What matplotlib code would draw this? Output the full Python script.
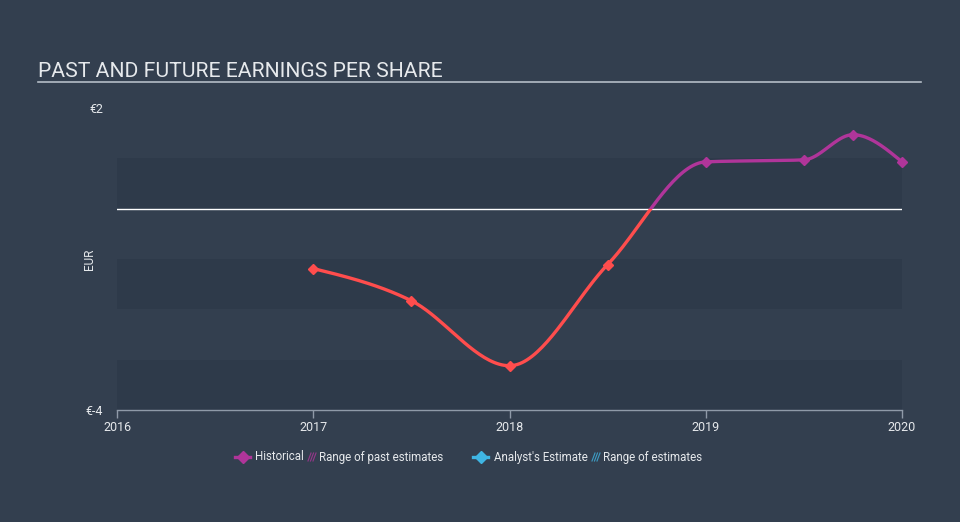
import matplotlib
matplotlib.use('Agg')
import matplotlib.pyplot as plt
from matplotlib.patches import Rectangle
import numpy as np

plt.rcParams['font.family'] = ['Roboto', 'DejaVu Sans']

# data
years = [2017.0, 2017.5, 2018.0, 2018.5, 2019.0, 2019.5, 2019.75, 2020.0]
eps = [-1.19, -1.83, -3.12, -1.11, 0.93, 0.97, 1.47, 0.93]
y_ticks = [-4, 2]
y_tick_labels = ['€-4', '€2']
x_ticks = [2016, 2017, 2018, 2019, 2020]

BG = '#333f4f'
BAND = '#2e3a4a'
NEG = '#ff4d4d'
POS = '#b0359a'
EST = '#3fb5e3'
TXT = '#e6e9ec'


def monotone_curve(x, y, n=40):
    # d3 curveMonotoneX style smoothing
    x = np.asarray(x, float)
    y = np.asarray(y, float)
    h = np.diff(x)
    s = np.diff(y) / h
    t = np.zeros(len(x))
    for i in range(1, len(x) - 1):
        p = (s[i - 1] * h[i] + s[i] * h[i - 1]) / (h[i - 1] + h[i])
        t[i] = (np.sign(s[i - 1]) + np.sign(s[i])) * min(abs(s[i - 1]), abs(s[i]), 0.5 * abs(p))
    t[0] = (3 * s[0] - t[1]) / 2
    t[-1] = (3 * s[-1] - t[-2]) / 2
    xs, ys = [], []
    for i in range(len(x) - 1):
        u = np.linspace(0, 1, n)
        h00 = 2 * u**3 - 3 * u**2 + 1
        h10 = u**3 - 2 * u**2 + u
        h01 = -2 * u**3 + 3 * u**2
        h11 = u**3 - u**2
        xs.append(x[i] + u * h[i])
        ys.append(h00 * y[i] + h10 * h[i] * t[i] + h01 * y[i + 1] + h11 * h[i] * t[i + 1])
    return np.concatenate(xs), np.concatenate(ys)


fig = plt.figure(figsize=(9.6, 5.22), dpi=100, facecolor=BG)
W, H = 960, 522
ax = fig.add_axes([117 / W, (H - 410) / H, (902 - 117) / W, (410 - 108) / H])
ax.set_facecolor(BG)
ax.set_xlim(2016, 2020)
ax.set_ylim(-4, 2)

# background bands
for lo in [-4, -2, 0]:
    ax.axhspan(lo, lo + 1, color=BAND, lw=0, zorder=0)
ax.axhline(0, color='white', lw=1, zorder=1)

cx, cy = monotone_curve(years, eps)
neg_line, = ax.plot(cx, cy, color=NEG, lw=2.4, zorder=3, solid_capstyle='round')
pos_line, = ax.plot(cx, cy, color=POS, lw=2.4, zorder=3, solid_capstyle='round')
neg_line.set_clip_path(Rectangle((2015, -10), 10, 10, transform=ax.transData))
pos_line.set_clip_path(Rectangle((2015, 0), 10, 10, transform=ax.transData))

for xv, yv in zip(years, eps):
    ax.plot(xv, yv, marker='D', ms=5.5, color=NEG if yv < 0 else POS, zorder=4, clip_on=False)

for side in ['top', 'right', 'left']:
    ax.spines[side].set_visible(False)
ax.spines['bottom'].set_color('#8f9aa8')
ax.spines['bottom'].set_linewidth(1)

ax.set_xticks(x_ticks)
ax.set_xticklabels([str(v) for v in x_ticks])
ax.tick_params(axis='x', colors='#8f9aa8', length=6, width=1, labelcolor=TXT, labelsize=9, pad=2)
ax.set_yticks(y_ticks)
ax.set_yticklabels(y_tick_labels)
ax.tick_params(axis='y', length=0, labelcolor=TXT, labelsize=9, pad=10)
ax.set_ylabel('EUR', color=TXT, fontsize=8.5)
ax.yaxis.set_label_coords(-0.027, 0.5)

# overlay in pixel coordinates for title and legend
ov = fig.add_axes([0, 0, 1, 1], facecolor='none')
ov.set_xlim(0, W)
ov.set_ylim(H, 0)
ov.axis('off')
ov.text(38, 77, 'PAST AND FUTURE EARNINGS PER SHARE', color=TXT, fontsize=15.2, va='baseline')
ov.plot([38, 921], [82, 82], color='#b4bcc6', lw=1.2)


def hatch(x0, color):
    for k in range(3):
        ov.plot([x0 + k * 2.5, x0 + 3 + k * 2.5], [461, 453], color=color, lw=0.8, alpha=0.8)


ov.plot([235, 250], [457, 457], color=POS, lw=2.4)
ov.plot(242.5, 457, marker='D', ms=6, color=POS)
ov.text(255, 457, 'Historical', color=TXT, fontsize=8.3, va='center')
hatch(308, POS)
ov.text(319, 457, 'Range of past estimates', color=TXT, fontsize=8.3, va='center')
ov.plot([473, 488], [457, 457], color=EST, lw=2.4)
ov.plot(480.5, 457, marker='D', ms=6, color=EST)
ov.text(494, 457, "Analyst's Estimate", color=TXT, fontsize=8.3, va='center')
hatch(592, EST)
ov.text(603, 457, 'Range of estimates', color=TXT, fontsize=8.3, va='center')

fig.savefig('out.png', dpi=100, facecolor=BG)
